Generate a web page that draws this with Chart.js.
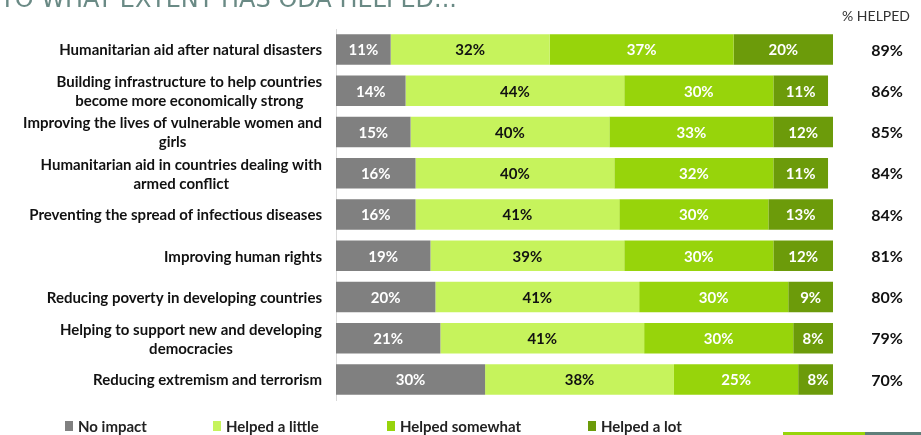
<!DOCTYPE html>
<html>
<head>
<meta charset="utf-8">
<title>ODA helped</title>
<script src="https://cdn.jsdelivr.net/npm/chart.js@4/dist/chart.umd.min.js"></script>
<style>
  html, body { margin: 0; padding: 0; background: #fff; }
  #wrap { width: 921px; height: 435px; }
</style>
</head>
<body>
<div id="wrap"><canvas id="odaChart" width="921" height="435"></canvas></div>
<script>
const categories = [
    ["Humanitarian aid after natural disasters"],
    ["Building infrastructure to help countries", "become more economically strong"],
    ["Improving the lives of vulnerable women and", "girls"],
    ["Humanitarian aid in countries dealing with", "armed conflict"],
    ["Preventing the spread of infectious diseases"],
    ["Improving human rights"],
    ["Reducing poverty in developing countries"],
    ["Helping to support new and developing", "democracies"],
    ["Reducing extremism and terrorism"]
];
const seriesNames = ["No impact", "Helped a little", "Helped somewhat", "Helped a lot"];
const noImpact = [11, 14, 15, 16, 16, 19, 20, 21, 30];
const helpedLittle = [32, 44, 40, 40, 41, 39, 41, 41, 38];
const helpedSomewhat = [37, 30, 33, 32, 30, 30, 30, 30, 25];
const helpedLot = [20, 11, 12, 11, 13, 12, 9, 8, 8];
const percentHelped = [89, 86, 85, 84, 84, 81, 80, 79, 70];
const chartTitle = "TO WHAT EXTENT HAS ODA HELPED...";
const helpedHeader = "% HELPED";

const colors = ["#808080", "#c6f35c", "#97d40b", "#6c9b0a"];
const labelColors = ["#ffffff", "#111111", "#ffffff", "#ffffff"];
const FONT = "Lato, 'Open Sans', sans-serif";

// category names on the left: block right-aligned, lines centred inside it
const categoryLabels = {
    id: "categoryLabels",
    afterDraw(chart) {
        const ctx = chart.ctx;
        const yScale = chart.scales.y;
        ctx.save();
        ctx.font = "bold 15px " + FONT;
        ctx.fillStyle = "#111";
        ctx.textAlign = "center";
        ctx.textBaseline = "middle";
        categories.forEach((lines, i) => {
            const yc = yScale.getPixelForValue(i);
            const w = Math.max(...lines.map(l => ctx.measureText(l).width));
            const cx = 322 - w / 2;
            const lh = 19;
            lines.forEach((line, j) => {
                ctx.fillText(line, cx, yc + (j - (lines.length - 1) / 2) * lh + 1);
            });
        });
        ctx.restore();
    }
};

// percentages inside each segment
const segmentLabels = {
    id: "segmentLabels",
    afterDatasetsDraw(chart) {
        const ctx = chart.ctx;
        ctx.save();
        ctx.font = "bold 15px " + FONT;
        ctx.textAlign = "center";
        ctx.textBaseline = "middle";
        chart.data.datasets.forEach((ds, di) => {
            const meta = chart.getDatasetMeta(di);
            ctx.fillStyle = labelColors[di];
            meta.data.forEach((bar, i) => {
                const cx = (bar.x + bar.base) / 2;
                ctx.fillText(ds.data[i] + "%", cx, bar.y + 1);
            });
        });
        ctx.restore();
    }
};

// "% HELPED" column, title strip, legend and footer bars
const extras = {
    id: "extras",
    afterDraw(chart) {
        const ctx = chart.ctx;
        const yScale = chart.scales.y;
        ctx.save();

        // title is cut off by the top edge in the source, fit it to ~458px
        const titleFont = "'DejaVu Sans', sans-serif";
        ctx.fillStyle = "#6a8a85";
        ctx.font = "40px " + titleFont;
        const tw = ctx.measureText(chartTitle).width;
        const size = Math.round(40 * 458 / tw);
        ctx.font = size + "px " + titleFont;
        ctx.textBaseline = "alphabetic";
        ctx.textAlign = "left";
        ctx.fillText(chartTitle, 0, 7);

        ctx.fillStyle = "#333";
        ctx.font = "14px " + FONT;
        ctx.textAlign = "center";
        ctx.textBaseline = "middle";
        ctx.fillText(helpedHeader, 876, 16);

        ctx.fillStyle = "#111";
        ctx.font = "bold 16px " + FONT;
        percentHelped.forEach((v, i) => {
            ctx.fillText(v + "%", 887, yScale.getPixelForValue(i) + 1);
        });

        const legendX = [65, 213, 387, 588];
        ctx.font = "bold 15px " + FONT;
        ctx.textAlign = "left";
        seriesNames.forEach((name, i) => {
            ctx.fillStyle = colors[i];
            ctx.fillRect(legendX[i], 421, 8, 10);
            ctx.fillStyle = "#222";
            ctx.fillText(name, legendX[i] + 13, 427);
        });

        ctx.fillStyle = "#97d40b";
        ctx.fillRect(783, 432, 82, 3);
        ctx.fillStyle = "#5f7f7a";
        ctx.fillRect(865, 432, 56, 3);
        ctx.restore();
    }
};

const ctx = document.getElementById("odaChart").getContext("2d");
const chart = new Chart(ctx, {
    type: "bar",
    data: {
        labels: categories,
        datasets: [noImpact, helpedLittle, helpedSomewhat, helpedLot].map((data, i) => ({
            label: seriesNames[i],
            data: data,
            backgroundColor: colors[i],
            borderWidth: 0,
            barPercentage: 0.74,
            categoryPercentage: 1
        }))
    },
    options: {
        indexAxis: "y",
        responsive: false,
        animation: false,
        devicePixelRatio: 1,
        layout: { padding: { left: 336, right: 88, top: 29, bottom: 35 } },
        scales: {
            x: { stacked: true, min: 0, max: 100, display: false },
            y: {
                stacked: true,
                ticks: { display: false },
                grid: { display: false },
                border: { display: true, color: "#d9d9d9", width: 1 },
                afterFit(scale) { scale.width = 0; }
            }
        },
        plugins: {
            legend: { display: false },
            tooltip: { enabled: false }
        }
    },
    plugins: [categoryLabels, segmentLabels, extras]
});
</script>
</body>
</html>
